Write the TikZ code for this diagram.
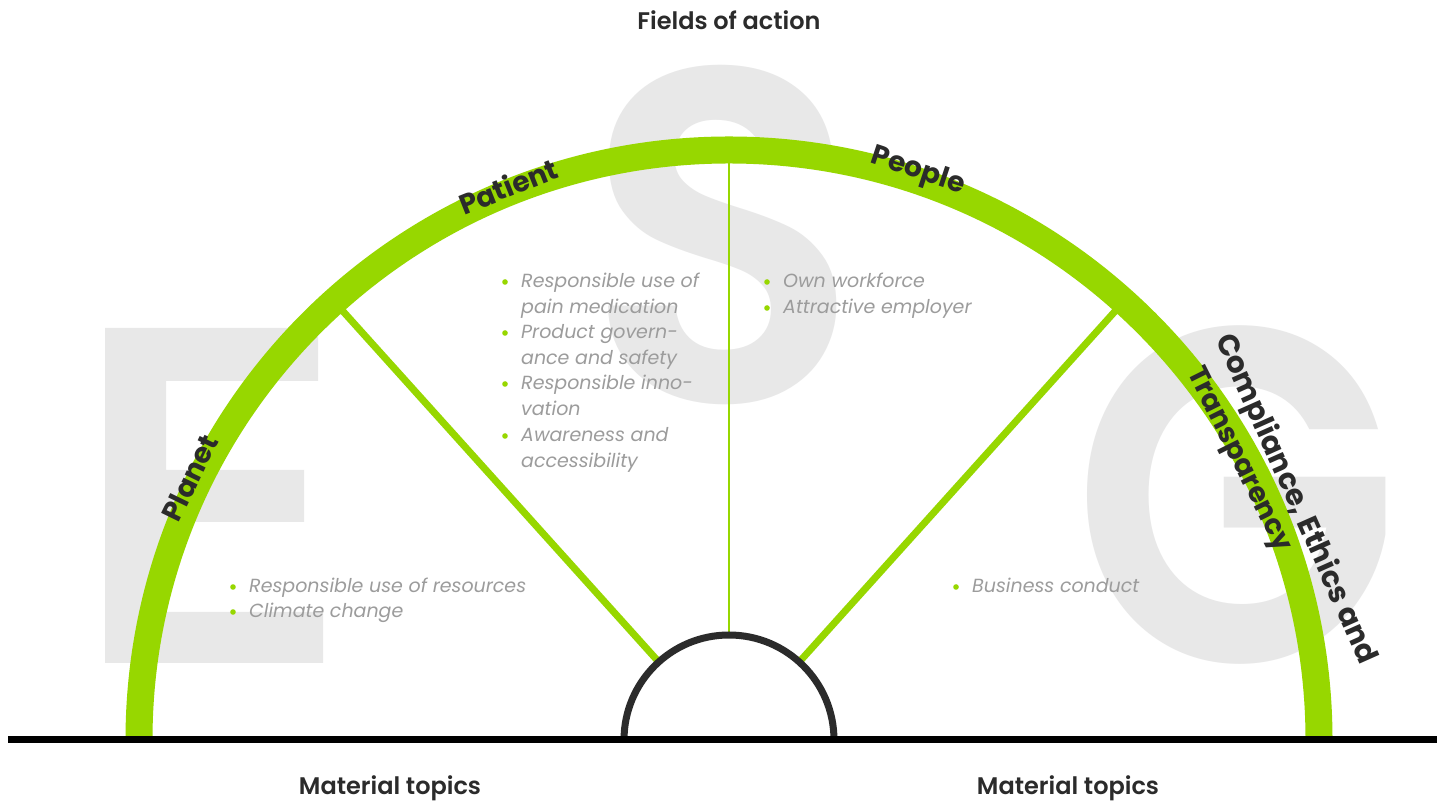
\documentclass[tikz,border=0pt]{standalone}
\usepackage{fontspec}
\setmainfont{Poppins}
\newfontfamily\semib{Poppins SemiBold}
\definecolor{acc}{HTML}{97D700}
\definecolor{dark}{HTML}{2B2B2B}
\definecolor{lightg}{HTML}{E8E8E8}
\definecolor{itemgray}{HTML}{9C9C9C}
\begin{document}
\begin{tikzpicture}[x=1pt,y=1pt,
  lbl/.style={font=\fontsize{28}{30}\selectfont\bfseries, text=dark, inner sep=0pt},
  ttl/.style={font=\fontsize{24}{26}\selectfont\semib, text=dark, inner sep=0pt},
  itm/.style={font=\fontsize{19}{24}\selectfont\itshape, text=itemgray, inner sep=0pt, anchor=base west},
  bigletter/.style={font=\fontsize{475}{475}\selectfont\semib, text=lightg, inner sep=0pt},
  spoke/.style={draw=acc, line width=7pt},
  bul/.style={fill=acc}]
\fill[white] (0,0) rectangle (1437,802);
\useasboundingbox (0,0) rectangle (1437,802);
% big letters
\fill[lightg] (105,474) -- (318,474) -- (318,421) -- (166,421) -- (166,332) -- (304,332)
  -- (304,280) -- (166,280) -- (166,190) -- (323,190) -- (323,139) -- (105,139) -- cycle;
\node[bigletter] (bigS) at (722.5,567) {\scalebox{0.95}[1]{S}};
\node[bigletter] (bigG) at (1236.5,306.5) {\scalebox{0.9}[1]{G}};
% centre
\coordinate (c) at (729,62);
\coordinate (lt) at (337.6,496.7);
\coordinate (rt) at (1120.4,496.7);
\coordinate (vt) at (729,650);
% bullet texts
\node[itm] (p1) at (249,209) {Responsible use of resources};
\node[itm] (p2) at (249,184) {Climate change};
\node[itm] (m1) at (521,514) {Responsible use of};
\node[itm] (m1b) at (521,488) {pain medication};
\node[itm] (m2) at (521,463) {Product govern-};
\node[itm] (m2b) at (521,437) {ance and safety};
\node[itm] (m3) at (521,412) {Responsible inno-};
\node[itm] (m3b) at (521,386) {vation};
\node[itm] (m4) at (521,360) {Awareness and};
\node[itm] (m4b) at (521,334) {accessibility};
\node[itm] (q1) at (783,514) {Own workforce};
\node[itm] (q2) at (783,488) {Attractive employer};
\node[itm] (r1) at (972,209) {Business conduct};
\foreach \n in {p1,p2,m1,m2,m3,m4,q1,q2,r1}
  \fill[bul] ([xshift=-16pt,yshift=6pt]\n.base west) circle (2.8pt);
% arc and spokes
\draw[acc, line width=27pt] (1319,62) arc (0:180:590);
\draw[spoke] (lt) -- (c);
\draw[spoke] (rt) -- (c);
\draw[acc, line width=1.5pt] (vt) -- (c);
\fill[white] (834,62) arc (0:180:105) -- cycle;
\draw[dark, line width=7pt] (834,62) arc (0:180:105);
\draw[black, line width=7pt] (8,62) -- (1437,62);
% arc labels
\node[lbl, rotate=64] (planet) at (190,324) {Planet};
\node[lbl, rotate=21.8] (patient) at (508,616) {Patient};
\node[lbl, rotate=-18.4] (people) at (918,630) {People};
\node[lbl, font=\fontsize{29.5}{31}\selectfont\bfseries, rotate=-66, anchor=base west] (comp) at (1215,463) {Compliance, Ethics and};
\node[lbl, rotate=-63.5, anchor=base west] (transp) at (1187,430) {Transparency};
% titles
\node[ttl] (fields) at (729,782) {Fields of action};
\node[ttl] (mt1) at (390,14) {Material topics};
\node[ttl] (mt2) at (1068,14) {Material topics};
\end{tikzpicture}
\end{document}
